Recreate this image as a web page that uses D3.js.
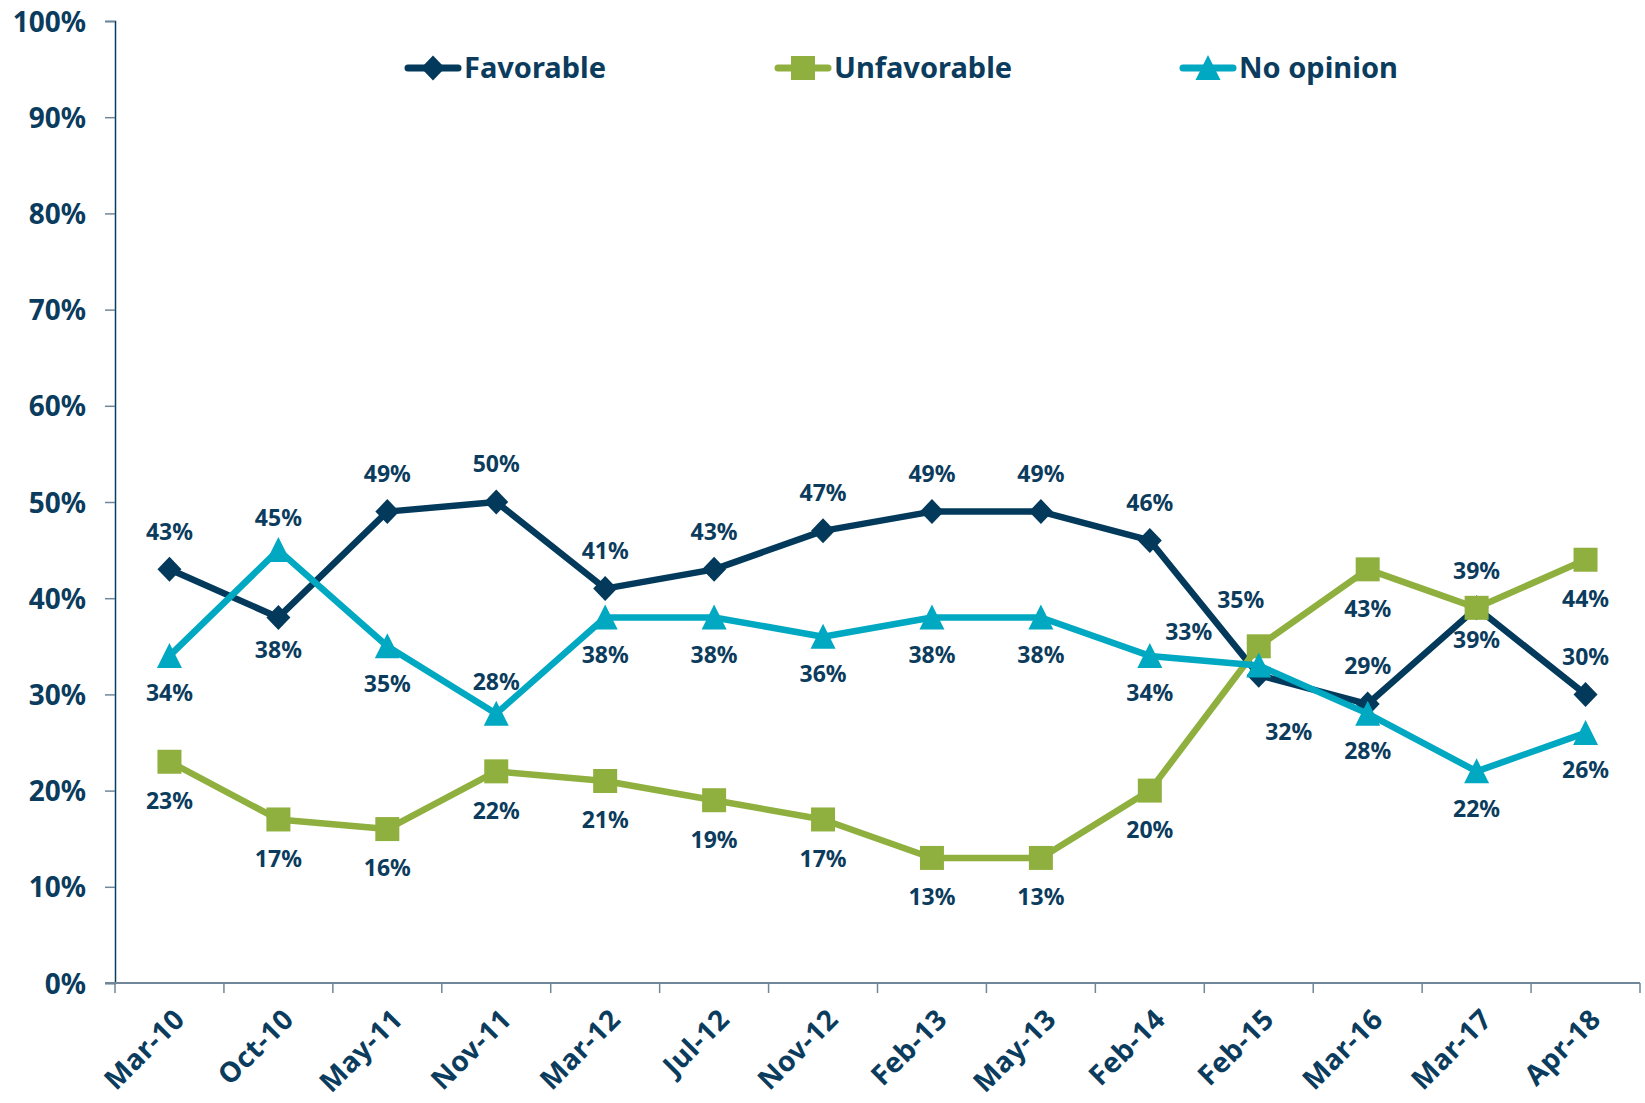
<!DOCTYPE html>
<html>
<head>
<meta charset="utf-8">
<script src="https://cdn.jsdelivr.net/npm/d3@7/dist/d3.min.js"></script>
<style>
  html, body { margin: 0; padding: 0; background: #fff; }
  svg text { font-family: "Noto Sans", "Open Sans", sans-serif; font-weight: 700; fill: #0b3c5d; }
</style>
</head>
<body>
<svg id="chart" width="1645" height="1103"></svg>
<script>
// Survey waves
var months = ["Mar-10", "Oct-10", "May-11", "Nov-11", "Mar-12", "Jul-12", "Nov-12",
              "Feb-13", "May-13", "Feb-14", "Feb-15", "Mar-16", "Mar-17", "Apr-18"];

// Values in percent
var favorable   = [43, 38, 49, 50, 41, 43, 47, 49, 49, 46, 32, 29, 39, 30];
var unfavorable = [23, 17, 16, 22, 21, 19, 17, 13, 13, 20, 35, 43, 39, 44];
var noOpinion   = [34, 45, 35, 28, 38, 38, 36, 38, 38, 34, 33, 28, 22, 26];

var yTicks = [0, 10, 20, 30, 40, 50, 60, 70, 80, 90, 100];

// where each value label sits: t = above, b = below, others are one-off nudges
var favPos   = ["t", "b", "t", "t", "t", "t", "t", "t", "t", "t", "br", "t", "b", "t"];
var unfavPos = ["b", "b", "b", "b", "b", "b", "b", "b", "b", "b", "tl", "b", "t", "b"];
var noOpPos  = ["b", "t", "b", "t", "b", "b", "b", "b", "b", "b", "tll", "b", "b", "b"];

var series = [
  {name: "Favorable",   values: favorable,   pos: favPos,   color: "#033a5b", marker: "diamond",
   offsets: {t: [0, -38], b: [0, 32], br: [30, 57]}},
  {name: "Unfavorable", values: unfavorable, pos: unfavPos, color: "#8fb03e", marker: "square",
   offsets: {t: [0, -37], b: [0, 39], tl: [-18, -47]}},
  {name: "No opinion",  values: noOpinion,   pos: noOpPos,  color: "#00a8c2", marker: "triangle",
   offsets: {t: [0, -32], b: [0, 37], tll: [-70, -34]}}
];

// plot box ("top" is taken by window.top, so prefixed)
var plotLeft = 115, plotRight = 1640, plotTop = 21, plotBottom = 983;

var svg = d3.select("#chart");

var x = d3.scaleBand().domain(months).range([plotLeft, plotRight]);
var y = d3.scaleLinear().domain([0, 100]).range([plotBottom, plotTop]);

// y axis
var yAxis = svg.append("g")
  .attr("transform", "translate(" + plotLeft + ",0)")
  .call(d3.axisLeft(y).tickValues(yTicks).tickSize(10).tickPadding(19)
    .tickFormat(function(d) { return d + "%"; }));
yAxis.select(".domain").attr("stroke", "#0b3c5d").attr("stroke-width", 1.5);
yAxis.selectAll(".tick line").attr("stroke", "#6f8799").attr("stroke-width", 1.5);
yAxis.selectAll(".tick text").style("font-size", "28px").attr("dy", "0.36em");

// x axis, ticks sit between categories
var xAxis = svg.append("g").attr("transform", "translate(0," + plotBottom + ")");
xAxis.append("line")
  .attr("x1", plotLeft - 10).attr("x2", plotRight)
  .attr("stroke", "#6f8799").attr("stroke-width", 2);
xAxis.selectAll(".tk")
  .data(months.concat(["end"]))
  .enter().append("line")
    .attr("x1", function(d, i) { return plotLeft + i * x.bandwidth(); })
    .attr("x2", function(d, i) { return plotLeft + i * x.bandwidth(); })
    .attr("y1", 0).attr("y2", 10)
    .attr("stroke", "#6f8799").attr("stroke-width", 1.5);
xAxis.selectAll(".lbl")
  .data(months)
  .enter().append("text")
    .attr("transform", function(d) {
      return "translate(" + (x(d) + x.bandwidth() / 2 + 17) + ",38) rotate(-45)";
    })
    .attr("text-anchor", "end")
    .style("font-size", "28px")
    .style("letter-spacing", "0.5px")
    .text(function(d) { return d; });

// marker outlines, centred on the point
function markerPath(type) {
  if (type == "diamond") return "M0,-12.5L12,0L0,12.5L-12,0Z";
  if (type == "square") return "M-12,-12H12V12H-12Z";
  return "M0,-13L12.5,12H-12.5Z";
}

var line = d3.line()
  .x(function(d, i) { return x(months[i]) + x.bandwidth() / 2; })
  .y(function(d) { return y(d); });

series.forEach(function(s) {
  var g = svg.append("g");
  g.append("path")
    .attr("d", line(s.values))
    .attr("fill", "none")
    .attr("stroke", s.color)
    .attr("stroke-width", 6.5)
    .attr("stroke-linejoin", "round");
  g.selectAll(".pt")
    .data(s.values)
    .enter().append("path")
      .attr("d", markerPath(s.marker))
      .attr("transform", function(d, i) {
        return "translate(" + (x(months[i]) + x.bandwidth() / 2) + "," + y(d) + ")";
      })
      .attr("fill", s.color);
});

// value labels drawn after all lines
series.forEach(function(s) {
  svg.append("g").selectAll("text")
    .data(s.values)
    .enter().append("text")
      .attr("x", function(d, i) { return x(months[i]) + x.bandwidth() / 2 + s.offsets[s.pos[i]][0]; })
      .attr("y", function(d, i) { return y(d) + s.offsets[s.pos[i]][1]; })
      .attr("dy", "0.36em")
      .attr("text-anchor", "middle")
      .style("font-size", "23px")
      .text(function(d) { return d + "%"; });
});

// legend
var legendX = [405, 775, 1180];
var legend = svg.append("g").attr("transform", "translate(0,68)");
series.forEach(function(s, i) {
  var lg = legend.append("g").attr("transform", "translate(" + legendX[i] + ",0)");
  lg.append("line")
    .attr("x1", 3).attr("x2", 53)
    .attr("stroke", s.color).attr("stroke-width", 7).attr("stroke-linecap", "round");
  lg.append("path")
    .attr("d", markerPath(s.marker))
    .attr("transform", "translate(28,0)")
    .attr("fill", s.color);
  lg.append("text")
    .attr("x", 59)
    .attr("dy", "0.36em")
    .style("font-size", "29px")
    .text(s.name);
});
</script>
</body>
</html>
